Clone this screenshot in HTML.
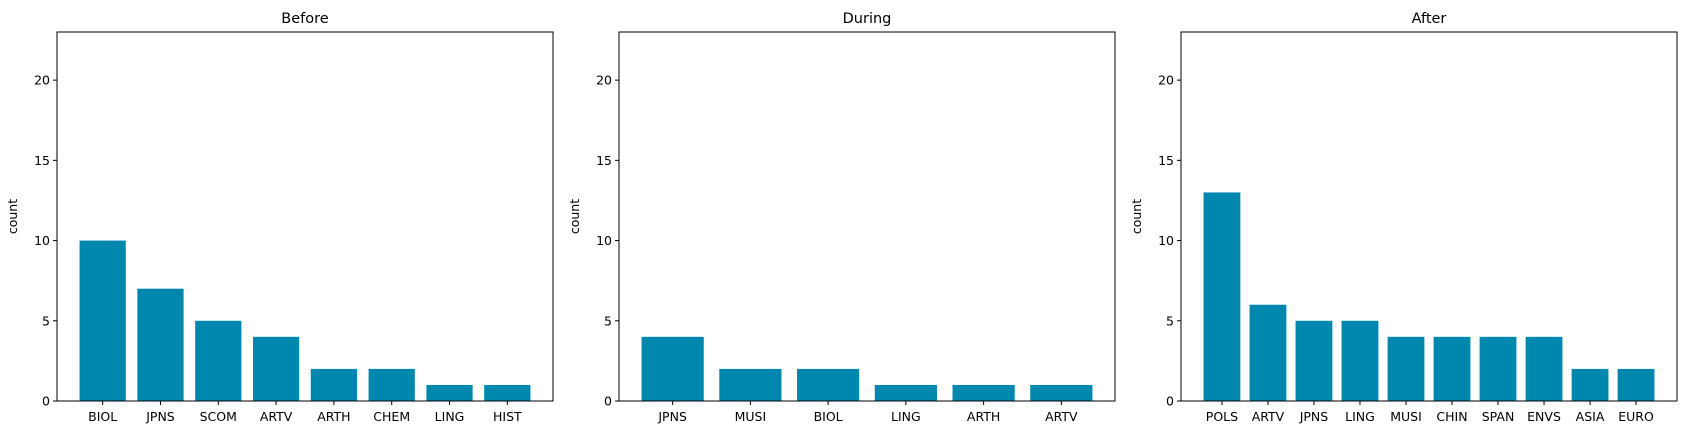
<!DOCTYPE html>
<html><head><meta charset="utf-8"><style>
body{margin:0;background:#fff;}
svg{display:block;font-family:"DejaVu Sans","Liberation Sans",sans-serif;}
</style></head><body>
<svg id="chart" width="1686" height="435"></svg>
<script>
const titles = ["Before","During","After"];
const beforeCats = ["BIOL","JPNS","SCOM","ARTV","ARTH","CHEM","LING","HIST"];
const beforeVals = [10,7,5,4,2,2,1,1];
const duringCats = ["JPNS","MUSI","BIOL","LING","ARTH","ARTV"];
const duringVals = [4,2,2,1,1,1];
const afterCats = ["POLS","ARTV","JPNS","LING","MUSI","CHIN","SPAN","ENVS","ASIA","EURO"];
const afterVals = [13,6,5,5,4,4,4,4,2,2];
const yTicks = [0,5,10,15,20];
const yMax = 23;

const NS="http://www.w3.org/2000/svg";
const svg=document.getElementById('chart');
function mk(tag,attrs,parent){const e=document.createElementNS(NS,tag);for(const k in attrs)e.setAttribute(k,attrs[k]);(parent||svg).appendChild(e);return e;}
const panels=[[beforeCats,beforeVals],[duringCats,duringVals],[afterCats,afterVals]];
const lefts=[57,619,1181], W=496, axTop=32, axBottom=401;
panels.forEach((p,i)=>{
  const cats=p[0], vals=p[1], n=cats.length;
  const L=lefts[i];
  const g=mk('g',{});
  
  
  const span=(n-0.2)*1.1, x0=-0.4-(n-0.2)*0.05;
  const xs=v=>L+(v-x0)/span*W;
  const ys=v=>axBottom-v/yMax*(axBottom-axTop);
  vals.forEach((v,j)=>{
    const r=mk('rect',{x:xs(j-0.4),y:ys(v),width:xs(j+0.4)-xs(j-0.4),height:ys(0)-ys(v),fill:'#0087ae'},g);
    
    
    mk('line',{x1:xs(j),x2:xs(j),y1:axBottom,y2:axBottom+4,stroke:'#000','stroke-width':1},g);
    const t=mk('text',{x:xs(j),y:axBottom+20,'text-anchor':'middle','font-size':'12.5'},g);
    t.textContent=cats[j];
    
    
  });
  yTicks.forEach(v=>{
    mk('line',{x1:L-4,x2:L,y1:ys(v),y2:ys(v),stroke:'#000','stroke-width':1},g);
    const t=mk('text',{x:L-7,y:ys(v)+4.5,'text-anchor':'end','font-size':'12.5'},g);
    t.textContent=v;
    
    
  });
  const fr=mk('rect',{x:L,y:axTop,width:W,height:axBottom-axTop,fill:'none',stroke:'#000','stroke-width':1},g);
  
  
  const tt=mk('text',{x:L+W/2,y:23,'text-anchor':'middle','font-size':'14.5'},g);
  tt.textContent=titles[i];
  
  
  const yl=mk('text',{x:0,y:0,'text-anchor':'middle','font-size':'12.5',transform:`translate(${L-40},${(axTop+axBottom)/2}) rotate(-90)`},g);
  yl.textContent='count';
  
  
});
</script>
</body></html>
